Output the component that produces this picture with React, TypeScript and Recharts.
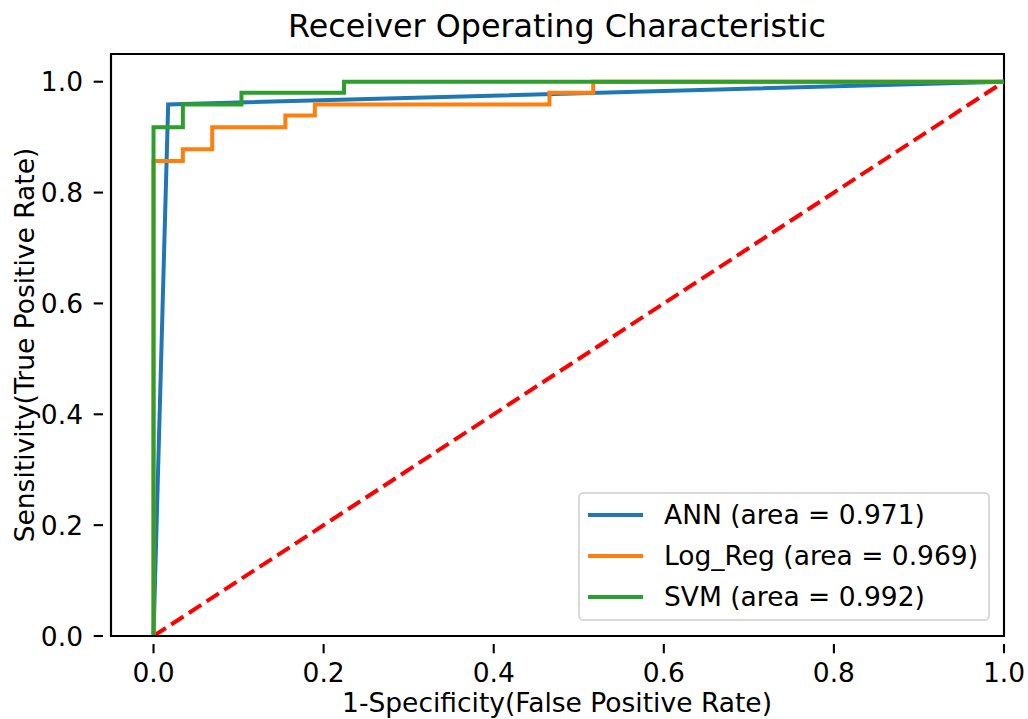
import {
  Line,
  LineChart,
  ReferenceArea,
  XAxis,
  YAxis,
} from 'recharts';

// ROC points: [false positive rate, true positive rate]
const annPoints = [
  [0.0, 0.0],
  [0.0172, 0.959],
  [1.0, 1.0],
];

const logRegPoints = [
  [0.0, 0.0],
  [0.0, 0.857],
  [0.0345, 0.857],
  [0.0345, 0.878],
  [0.069, 0.878],
  [0.069, 0.918],
  [0.155, 0.918],
  [0.155, 0.939],
  [0.1897, 0.939],
  [0.1897, 0.959],
  [0.4655, 0.959],
  [0.4655, 0.98],
  [0.517, 0.98],
  [0.517, 1.0],
  [1.0, 1.0],
];

const svmPoints = [
  [0.0, 0.0],
  [0.0, 0.918],
  [0.0345, 0.918],
  [0.0345, 0.959],
  [0.1034, 0.959],
  [0.1034, 0.98],
  [0.224, 0.98],
  [0.224, 1.0],
  [1.0, 1.0],
];

const chancePoints = [
  [0.0, 0.0],
  [1.0, 1.0],
];

const xTicks = [0, 0.2, 0.4, 0.6, 0.8, 1.0];
const yTicks = [0, 0.2, 0.4, 0.6, 0.8, 1.0];

const series = [
  { name: 'ANN (area = 0.971)', points: annPoints, color: '#1f77b4' },
  { name: 'Log_Reg (area = 0.969)', points: logRegPoints, color: '#ff7f0e' },
  { name: 'SVM (area = 0.992)', points: svmPoints, color: '#2ca02c' },
];

const toRows = (pts: number[][]) => pts.map(([x, y]) => ({ x, y }));

const FONT = 'DejaVu Sans';
const TICK_FONT = 26.5;

const XTick = ({ x = 0, y = 0, payload }: any) => (
  <g transform={`translate(${x}, ${y})`}>
    <line x1={0} y1={0} x2={0} y2={9.3} stroke="#000" strokeWidth={2.1} />
    <text
      x={0}
      y={38}
      textAnchor="middle"
      fontFamily={FONT}
      fontSize={TICK_FONT}
      fill="#000"
    >
      {Number(payload.value).toFixed(1)}
    </text>
  </g>
);

const YTick = ({ x = 0, y = 0, payload }: any) => (
  <g transform={`translate(${x}, ${y})`}>
    <line x1={0} y1={0} x2={-9.3} y2={0} stroke="#000" strokeWidth={2.1} />
    <text
      x={-20}
      y={9.7}
      textAnchor="end"
      fontFamily={FONT}
      fontSize={TICK_FONT}
      fill="#000"
    >
      {Number(payload.value).toFixed(1)}
    </text>
  </g>
);

const LegendBox = () => (
  <div
    style={{
      position: 'absolute',
      left: 578,
      top: 492,
      width: 412,
      height: 129,
      boxSizing: 'border-box',
      border: '2px solid #d9d9d9',
      borderRadius: 5,
      background: 'rgba(255,255,255,0.8)',
      paddingTop: 0,
    }}
  >
    {series.map((s) => (
      <div
        key={s.name}
        style={{ display: 'flex', alignItems: 'center', height: 41.2 }}
      >
        <div
          style={{
            marginLeft: 8,
            width: 55,
            height: 4,
            background: s.color,
          }}
        />
        <span
          style={{
            marginLeft: 21,
            fontFamily: FONT,
            fontSize: TICK_FONT,
            color: '#000',
            whiteSpace: 'nowrap',
          }}
        >
          {s.name}
        </span>
      </div>
    ))}
  </div>
);

export default function App() {
  return (
    <div
      style={{
        position: 'fixed',
        left: 0,
        top: 0,
        width: 1028,
        height: 719,
        background: '#fff',
      }}
    >
      <LineChart
        width={1028}
        height={719}
        margin={{ top: 54, right: 24, left: 0, bottom: 0 }}
      >
        <XAxis
          dataKey="x"
          type="number"
          domain={[-0.05, 1.0]}
          ticks={xTicks}
          allowDataOverflow
          height={83}
          axisLine={{ stroke: '#000', strokeWidth: 2.1 }}
          tickLine={false}
          tick={<XTick />}
          interval={0}
        />
        <YAxis
          dataKey="y"
          type="number"
          domain={[0, 1.05]}
          ticks={yTicks}
          allowDataOverflow
          width={111}
          axisLine={{ stroke: '#000', strokeWidth: 2.1 }}
          tickLine={false}
          tick={<YTick />}
          interval={0}
        />
        <Line
          data={toRows(chancePoints)}
          dataKey="y"
          type="linear"
          stroke="#ff0000"
          strokeWidth={4}
          strokeDasharray="14.7 6.4"
          dot={false}
          legendType="none"
          isAnimationActive={false}
        />
        {series.map((s) => (
          <Line
            key={s.name}
            data={toRows(s.points)}
            dataKey="y"
            name={s.name}
            type="linear"
            stroke={s.color}
            strokeWidth={4}
            dot={false}
            isAnimationActive={false}
          />
        ))}
        <ReferenceArea
          x1={-0.05}
          x2={1.0}
          y1={0}
          y2={1.05}
          fill="none"
          stroke="#000"
          strokeWidth={2.1}
          ifOverflow="visible"
        />
        <text
          x={557}
          y={37}
          textAnchor="middle"
          fontFamily={FONT}
          fontSize={31.8}
          fill="#000"
        >
          Receiver Operating Characteristic
        </text>
        <text
          x={557}
          y={712}
          textAnchor="middle"
          fontFamily={FONT}
          fontSize={TICK_FONT}
          fill="#000"
        >
          1-Specificity(False Positive Rate)
        </text>
        <text
          x={0}
          y={0}
          transform="translate(34, 345) rotate(-90)"
          textAnchor="middle"
          fontFamily={FONT}
          fontSize={TICK_FONT}
          fill="#000"
        >
          Sensitivity(True Positive Rate)
        </text>
      </LineChart>
      <LegendBox />
    </div>
  );
}
